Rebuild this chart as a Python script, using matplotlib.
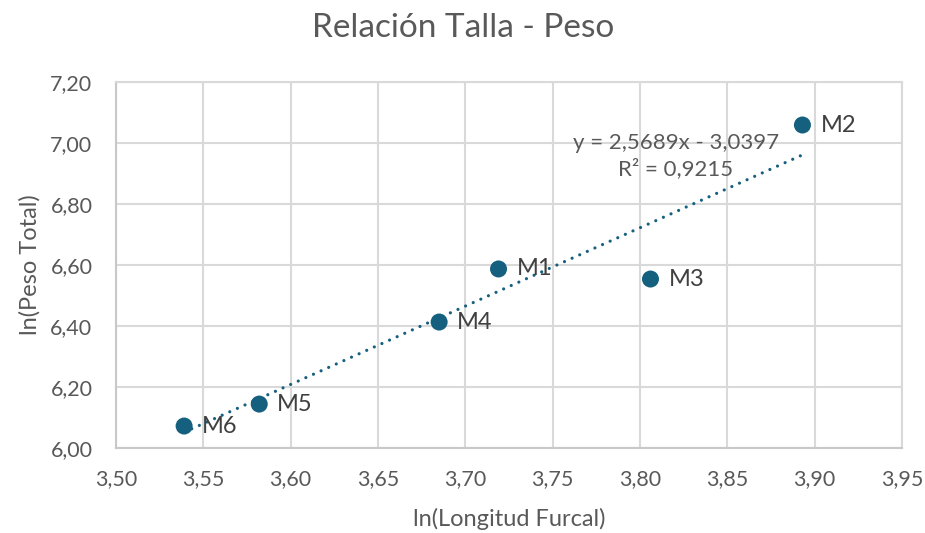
import matplotlib
matplotlib.use("Agg")
import matplotlib.pyplot as plt
import numpy as np
from matplotlib.ticker import FuncFormatter, MultipleLocator

labels = ["M1", "M2", "M3", "M4", "M5", "M6"]
ln_longitud = [3.719, 3.893, 3.806, 3.685, 3.582, 3.539]
ln_peso = [6.587, 7.059, 6.554, 6.413, 6.144, 6.072]
equation_text = "y = 2,5689x - 3,0397\nR² = 0,9215"
slope, intercept = 2.5689, -3.0397

plt.rcParams['font.family'] = ['Lato', 'DejaVu Sans']

color = '#16607F'
grey_text = '#595959'
grid_c = '#D9D9D9'

fig = plt.figure(figsize=(9.25, 5.33), dpi=100)
ax = fig.add_axes([116/925, 1 - 448/533, (902-116)/925, (448-82)/533])

ax.set_xlim(3.50, 3.95)
ax.set_ylim(6.00, 7.20)
ax.xaxis.set_major_locator(MultipleLocator(0.05))
ax.yaxis.set_major_locator(MultipleLocator(0.20))
fmt2 = FuncFormatter(lambda v, p: f"{v:.2f}".replace('.', ','))
ax.xaxis.set_major_formatter(fmt2)
ax.yaxis.set_major_formatter(fmt2)
ax.grid(True, color=grid_c, lw=1.5, zorder=0)
ax.set_axisbelow(True)
for s in ax.spines.values():
    s.set_color(grid_c)
    s.set_linewidth(1.5)
ax.spines['left'].set_color('#C8C8C8')
ax.spines['bottom'].set_color('#C8C8C8')
ax.tick_params(length=0, labelsize=15.5, labelcolor=grey_text)
ax.tick_params(axis='y', pad=17)
ax.tick_params(axis='x', pad=15)

xs = np.array([min(ln_longitud), max(ln_longitud)])
ax.plot(xs, slope * xs + intercept, linestyle=(0, (0.01, 2.6)), color=color, lw=2.3,
        dash_capstyle='round', solid_capstyle='round', zorder=2)

ax.scatter(ln_longitud, ln_peso, s=150, color=color, zorder=3, edgecolors='none')
for lx, ly, lab in zip(ln_longitud, ln_peso, labels):
    ax.annotate(lab, (lx, ly), xytext=(13, 0), textcoords='offset points',
                va='center', ha='left', fontsize=17, color='#404040', zorder=4)

ax.text(3.8206, 6.956, equation_text, ha='center', va='center', fontsize=16,
        color=grey_text, linespacing=1.3, zorder=4)

ax.set_xlabel("ln(Longitud Furcal)", fontsize=17, color=grey_text, labelpad=14)
ax.set_ylabel("ln(Peso Total)", fontsize=17, color=grey_text, labelpad=7)
fig.text(463/925, 1 - 28/533, "Relación Talla - Peso", ha='center', va='center',
         fontsize=24, color=grey_text)

fig.savefig("out.png", dpi=100)
